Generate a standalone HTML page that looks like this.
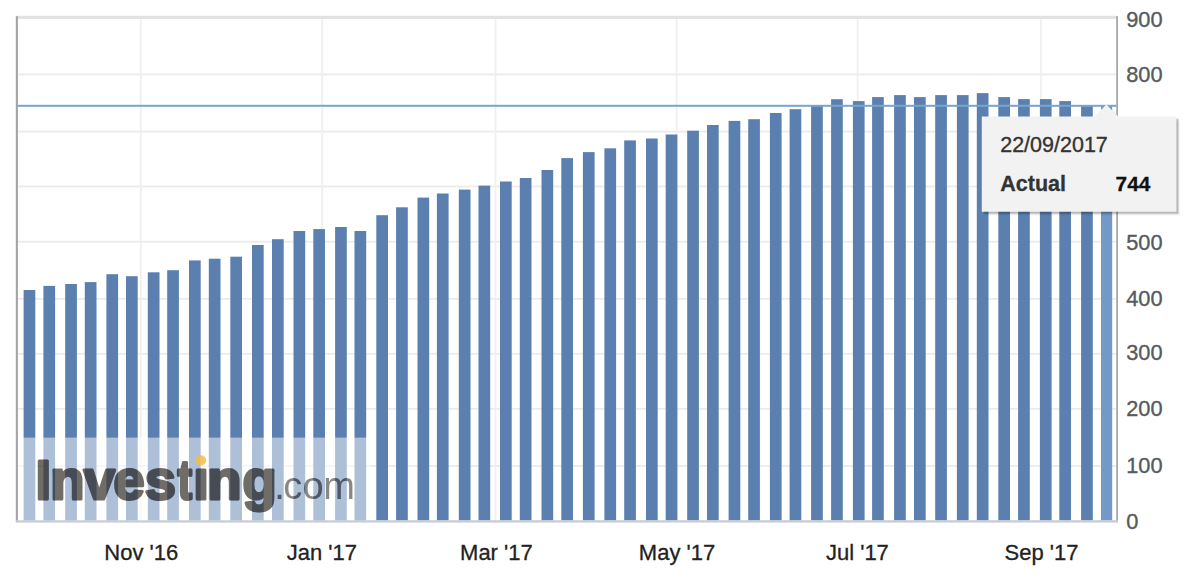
<!DOCTYPE html>
<html><head><meta charset="utf-8"><style>
html,body{margin:0;padding:0;background:#fff;width:1192px;height:582px;overflow:hidden}
svg{display:block;font-family:"Liberation Sans",sans-serif}
</style></head><body>
<svg width="1192" height="582" viewBox="0 0 1192 582">
<defs>
</defs>
<rect x="0" y="0" width="1192" height="582" fill="#fff"/>

<rect x="17" y="73.50" width="1100" height="1.8" fill="#ebebeb"/>
<rect x="17" y="130.70" width="1100" height="1.8" fill="#ebebeb"/>
<rect x="17" y="185.60" width="1100" height="1.8" fill="#ebebeb"/>
<rect x="17" y="240.80" width="1100" height="1.8" fill="#ebebeb"/>
<rect x="17" y="297.90" width="1100" height="1.8" fill="#ebebeb"/>
<rect x="17" y="352.90" width="1100" height="1.8" fill="#ebebeb"/>
<rect x="17" y="407.90" width="1100" height="1.8" fill="#ebebeb"/>
<rect x="17" y="465.10" width="1100" height="1.8" fill="#ebebeb"/>
<rect x="139.90" y="17" width="1.8" height="503" fill="#f0f0f0"/>
<rect x="321.30" y="17" width="1.8" height="503" fill="#f0f0f0"/>
<rect x="494.60" y="17" width="1.8" height="503" fill="#f0f0f0"/>
<rect x="675.70" y="17" width="1.8" height="503" fill="#f0f0f0"/>
<rect x="856.70" y="17" width="1.8" height="503" fill="#f0f0f0"/>
<rect x="1039.90" y="17" width="1.8" height="503" fill="#f0f0f0"/>
<rect x="16" y="15.8" width="1101" height="3.2" fill="#e2e2e2"/>
<rect x="23.60" y="290.00" width="11.7" height="230.50" fill="#5b80b0"/>
<rect x="43.40" y="285.90" width="11.7" height="234.60" fill="#5b80b0"/>
<rect x="65.20" y="284.00" width="11.7" height="236.50" fill="#5b80b0"/>
<rect x="84.80" y="282.10" width="11.7" height="238.40" fill="#5b80b0"/>
<rect x="106.40" y="274.20" width="11.7" height="246.30" fill="#5b80b0"/>
<rect x="126.00" y="276.20" width="11.7" height="244.30" fill="#5b80b0"/>
<rect x="147.80" y="272.30" width="11.7" height="248.20" fill="#5b80b0"/>
<rect x="167.20" y="270.20" width="11.7" height="250.30" fill="#5b80b0"/>
<rect x="189.00" y="260.40" width="11.7" height="260.10" fill="#5b80b0"/>
<rect x="208.80" y="258.70" width="11.7" height="261.80" fill="#5b80b0"/>
<rect x="230.30" y="256.70" width="11.7" height="263.80" fill="#5b80b0"/>
<rect x="252.00" y="245.00" width="11.7" height="275.50" fill="#5b80b0"/>
<rect x="272.00" y="239.20" width="11.7" height="281.30" fill="#5b80b0"/>
<rect x="293.50" y="231.00" width="11.7" height="289.50" fill="#5b80b0"/>
<rect x="313.30" y="229.10" width="11.7" height="291.40" fill="#5b80b0"/>
<rect x="335.10" y="227.00" width="11.7" height="293.50" fill="#5b80b0"/>
<rect x="354.50" y="231.00" width="11.7" height="289.50" fill="#5b80b0"/>
<rect x="376.30" y="215.20" width="11.7" height="305.30" fill="#5b80b0"/>
<rect x="396.10" y="207.30" width="11.7" height="313.20" fill="#5b80b0"/>
<rect x="417.50" y="197.60" width="11.7" height="322.90" fill="#5b80b0"/>
<rect x="436.90" y="193.50" width="11.7" height="327.00" fill="#5b80b0"/>
<rect x="458.80" y="189.60" width="11.7" height="330.90" fill="#5b80b0"/>
<rect x="478.50" y="185.60" width="11.7" height="334.90" fill="#5b80b0"/>
<rect x="500.00" y="181.50" width="11.7" height="339.00" fill="#5b80b0"/>
<rect x="519.80" y="178.00" width="11.7" height="342.50" fill="#5b80b0"/>
<rect x="541.50" y="170.00" width="11.7" height="350.50" fill="#5b80b0"/>
<rect x="561.30" y="158.10" width="11.7" height="362.40" fill="#5b80b0"/>
<rect x="582.90" y="152.10" width="11.7" height="368.40" fill="#5b80b0"/>
<rect x="604.40" y="148.30" width="11.7" height="372.20" fill="#5b80b0"/>
<rect x="624.20" y="140.40" width="11.7" height="380.10" fill="#5b80b0"/>
<rect x="646.00" y="138.50" width="11.7" height="382.00" fill="#5b80b0"/>
<rect x="665.70" y="134.50" width="11.7" height="386.00" fill="#5b80b0"/>
<rect x="687.20" y="130.70" width="11.7" height="389.80" fill="#5b80b0"/>
<rect x="707.00" y="125.00" width="11.7" height="395.50" fill="#5b80b0"/>
<rect x="728.60" y="120.90" width="11.7" height="399.60" fill="#5b80b0"/>
<rect x="748.20" y="119.20" width="11.7" height="401.30" fill="#5b80b0"/>
<rect x="769.90" y="113.00" width="11.7" height="407.50" fill="#5b80b0"/>
<rect x="789.60" y="109.20" width="11.7" height="411.30" fill="#5b80b0"/>
<rect x="811.10" y="105.30" width="11.7" height="415.20" fill="#5b80b0"/>
<rect x="831.10" y="99.20" width="11.7" height="421.30" fill="#5b80b0"/>
<rect x="852.90" y="101.10" width="11.7" height="419.40" fill="#5b80b0"/>
<rect x="872.10" y="97.10" width="11.7" height="423.40" fill="#5b80b0"/>
<rect x="894.10" y="95.10" width="11.7" height="425.40" fill="#5b80b0"/>
<rect x="914.00" y="97.10" width="11.7" height="423.40" fill="#5b80b0"/>
<rect x="935.20" y="95.10" width="11.7" height="425.40" fill="#5b80b0"/>
<rect x="956.90" y="95.10" width="11.7" height="425.40" fill="#5b80b0"/>
<rect x="976.80" y="93.10" width="11.7" height="427.40" fill="#5b80b0"/>
<rect x="998.30" y="97.10" width="11.7" height="423.40" fill="#5b80b0"/>
<rect x="1018.10" y="99.10" width="11.7" height="421.40" fill="#5b80b0"/>
<rect x="1039.90" y="99.10" width="11.7" height="421.40" fill="#5b80b0"/>
<rect x="1059.30" y="101.10" width="11.7" height="419.40" fill="#5b80b0"/>
<rect x="1081.10" y="105.20" width="11.7" height="415.30" fill="#5b80b0"/>
<rect x="1101.00" y="105.50" width="11.2" height="415.00" fill="#7399c8"/>
<rect x="17" y="104.8" width="1100" height="2" fill="#77a5cd"/>
<rect x="15.8" y="16.2" width="2.1" height="506" fill="#a4a4a4"/>
<rect x="1116.2" y="16.2" width="1.8" height="506" fill="#a8a8a8"/>
<rect x="16" y="520.2" width="1102" height="2.4" fill="#c9cdd6"/>
<defs>
<g id="lgA" font-size="56" font-weight="bold" stroke-width="3" stroke-linejoin="round"><text x="35.6 50.3 83.8 113.6 144.7" y="499.3">Inves</text><text transform="translate(184.7,499.3) scale(0.78,1)" x="0" y="0" text-anchor="middle">t</text><text x="193.2 207.3 242.4" y="499.3">ıng</text></g>
<g id="lgB" font-size="38"><text x="274.3 283.2 302.5 323.15" y="499.3">.com</text></g>
<mask id="ovm" maskUnits="userSpaceOnUse" x="0" y="400" width="400" height="140"><rect x="0" y="400" width="400" height="140" fill="#fff"/><g fill="#000" stroke="#000"><use href="#lgA"/></g><g fill="#000"><use href="#lgB"/></g></mask>
</defs>
<rect x="18" y="437.6" width="352" height="82.6" fill="#fff" fill-opacity="0.5" mask="url(#ovm)"/>
<g opacity="0.75" fill="#413b36" stroke="#413b36"><use href="#lgA"/></g>
<g opacity="0.62" fill="#453e3b"><use href="#lgB"/></g>
<circle cx="201" cy="460.4" r="5.1" fill="#f8bb44" fill-opacity="0.85"/>
<text transform="translate(1126.2,26.7) scale(0.99,1.02)" x="0" y="0" font-size="22" fill="#555a60" stroke="#555a60" stroke-width="0.35">900</text>
<text transform="translate(1126.2,81.8) scale(0.99,1.02)" x="0" y="0" font-size="22" fill="#555a60" stroke="#555a60" stroke-width="0.35">800</text>
<text transform="translate(1126.2,138.0) scale(0.99,1.02)" x="0" y="0" font-size="22" fill="#555a60" stroke="#555a60" stroke-width="0.35">700</text>
<text transform="translate(1126.2,193.8) scale(0.99,1.02)" x="0" y="0" font-size="22" fill="#555a60" stroke="#555a60" stroke-width="0.35">600</text>
<text transform="translate(1126.2,249.6) scale(0.99,1.02)" x="0" y="0" font-size="22" fill="#555a60" stroke="#555a60" stroke-width="0.35">500</text>
<text transform="translate(1126.2,305.5) scale(0.99,1.02)" x="0" y="0" font-size="22" fill="#555a60" stroke="#555a60" stroke-width="0.35">400</text>
<text transform="translate(1126.2,360.1) scale(0.99,1.02)" x="0" y="0" font-size="22" fill="#555a60" stroke="#555a60" stroke-width="0.35">300</text>
<text transform="translate(1126.2,416.3) scale(0.99,1.02)" x="0" y="0" font-size="22" fill="#555a60" stroke="#555a60" stroke-width="0.35">200</text>
<text transform="translate(1126.2,472.8) scale(0.99,1.02)" x="0" y="0" font-size="22" fill="#555a60" stroke="#555a60" stroke-width="0.35">100</text>
<text transform="translate(1126.2,528.5) scale(0.99,1.02)" x="0" y="0" font-size="22" fill="#555a60" stroke="#555a60" stroke-width="0.35">0</text>
<text transform="translate(141.3,560.3) scale(1.0,1.02)" x="0" y="0" font-size="22" fill="#222" stroke="#222" stroke-width="0.3" text-anchor="middle">Nov '16</text>
<text transform="translate(321.8,560.3) scale(1.0,1.02)" x="0" y="0" font-size="22" fill="#222" stroke="#222" stroke-width="0.3" text-anchor="middle">Jan '17</text>
<text transform="translate(496.4,560.3) scale(1.0,1.02)" x="0" y="0" font-size="22" fill="#222" stroke="#222" stroke-width="0.3" text-anchor="middle">Mar '17</text>
<text transform="translate(677.0,560.3) scale(1.0,1.02)" x="0" y="0" font-size="22" fill="#222" stroke="#222" stroke-width="0.3" text-anchor="middle">May '17</text>
<text transform="translate(857.4,560.3) scale(1.0,1.02)" x="0" y="0" font-size="22" fill="#222" stroke="#222" stroke-width="0.3" text-anchor="middle">Jul '17</text>
<text transform="translate(1041.5,560.3) scale(1.0,1.02)" x="0" y="0" font-size="22" fill="#222" stroke="#222" stroke-width="0.3" text-anchor="middle">Sep '17</text>
<path d="M981.8,116.6 L1094.5,116.6 L1106.4,104.6 L1118.3,116.6 L1176.4,116.6 L1176.4,211.8 L981.8,211.8 Z" transform="translate(3.4,3.8)" fill="#000" fill-opacity="0.05"/>
<path d="M981.8,116.6 L1094.5,116.6 L1106.4,104.6 L1118.3,116.6 L1176.4,116.6 L1176.4,211.8 L981.8,211.8 Z" transform="translate(2.4,2.4)" fill="#000" fill-opacity="0.1"/>
<path d="M981.8,116.6 L1094.5,116.6 L1106.4,104.6 L1118.3,116.6 L1176.4,116.6 L1176.4,211.8 L981.8,211.8 Z" transform="translate(1.8,1.8)" fill="#000" fill-opacity="0.15"/>
<path d="M981.8,116.6 L1094.5,116.6 L1106.4,104.6 L1118.3,116.6 L1176.4,116.6 L1176.4,211.8 L981.8,211.8 Z" fill="#f2f2f2"/>
<text x="1000.2" y="152.1" font-size="21.5" fill="#333" stroke="#333" stroke-width="0.35">22/09/2017</text>
<text x="1000.3" y="191.4" font-size="21.5" font-weight="bold" fill="#333" stroke="#333" stroke-width="0.3">Actual</text>
<text x="1115.6" y="191.4" font-size="20.8" font-weight="bold" fill="#111" stroke="#111" stroke-width="0.3">744</text>
</svg></body></html>
